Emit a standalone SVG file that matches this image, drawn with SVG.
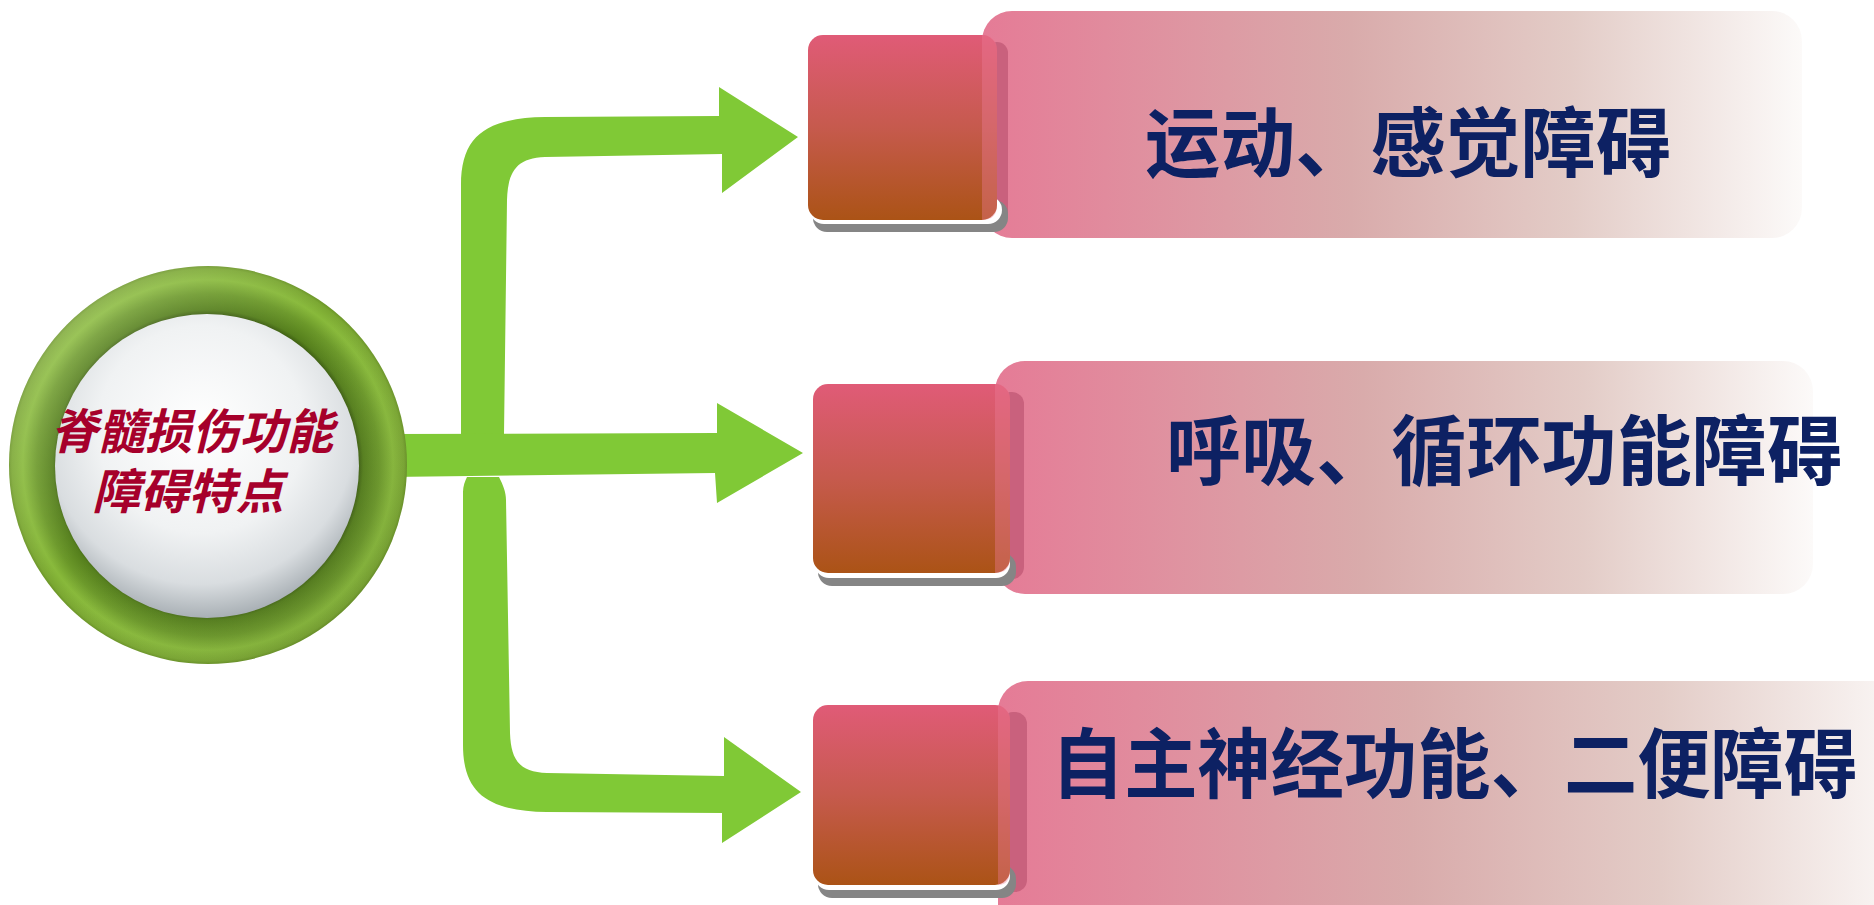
<svg xmlns="http://www.w3.org/2000/svg" width="1874" height="905" viewBox="0 0 1874 905">
<defs>
  <linearGradient id="banner" x1="0" y1="0" x2="1" y2="0">
    <stop offset="0" stop-color="#e57b96"/>
    <stop offset="0.45" stop-color="#d9abab"/>
    <stop offset="0.72" stop-color="#e3ccc7"/>
    <stop offset="1" stop-color="#fcfaf9"/>
  </linearGradient>
  <linearGradient id="sq" x1="0" y1="0" x2="0" y2="1">
    <stop offset="0" stop-color="#e05b77"/>
    <stop offset="0.5" stop-color="#c65a4d"/>
    <stop offset="1" stop-color="#ab5316"/>
  </linearGradient>
  <radialGradient id="ring" cx="0.5" cy="0.5" r="0.5">
    <stop offset="0.74" stop-color="#2f4a0c"/>
    <stop offset="0.78" stop-color="#557f1c"/>
    <stop offset="0.86" stop-color="#6b9829"/>
    <stop offset="0.93" stop-color="#88b93a"/>
    <stop offset="0.985" stop-color="#7aa731"/>
    <stop offset="1" stop-color="#6a9426"/>
  </radialGradient>
  <linearGradient id="ringHi" x1="0" y1="0" x2="1" y2="1">
    <stop offset="0" stop-color="#ffffff" stop-opacity="0.25"/>
    <stop offset="0.45" stop-color="#ffffff" stop-opacity="0"/>
    <stop offset="1" stop-color="#000000" stop-opacity="0.12"/>
  </linearGradient>
  <radialGradient id="sphere" cx="0.48" cy="0.38" r="0.62">
    <stop offset="0" stop-color="#ffffff"/>
    <stop offset="0.55" stop-color="#f0f2f3"/>
    <stop offset="0.82" stop-color="#d9dde0"/>
    <stop offset="1" stop-color="#a9b0b5"/>
  </radialGradient>
  <style>
    .arrow { fill: #80c936; }
    .band { fill: #c9617d; }
    .shadow { fill: #858585; }
    .strip { fill: #ffffff; }
    .gloss { fill: #ec7a96; opacity: 0.4; }
    .label { font-family: "Noto Sans CJK SC", "Noto Sans", sans-serif; font-weight: bold; font-size: 76px; fill: #0d2163; }
    .center { font-family: "Noto Sans CJK SC", "Noto Sans", sans-serif; font-weight: bold; font-style: italic; font-size: 48px; fill: #a6002b; text-anchor: middle; }
  </style>
</defs>

<g id="connectors">
  <path class="arrow" d="M461,434 L461,185 C461,135 487,118 545,117 L719,116 L719,87 L798,137 L722,193 L722,154 L545,157 C516,158 508,172 507,200 L504,434 Z"/>
  <path class="arrow" d="M390,434 L717,433 L717,403 L803,453 L717,503 L715,473 L390,477 Z"/>
  <path class="arrow" d="M467,477 L499,477 C503,485 506,492 506,500 L510,733 C511,762 521,772 547,773 L724,776 L724,737 L801,792 L722,843 L722,813 L547,812 C490,811 463,795 463,745 L463,492 C463,486 465,481 467,477 Z"/>
</g>

<g id="node-center">
  <circle cx="208" cy="465" r="199" fill="url(#ring)"/>
  <circle cx="208" cy="465" r="199" fill="url(#ringHi)"/>
  <circle cx="207" cy="466" r="152" fill="url(#sphere)"/>
  <text class="center"><tspan x="192" y="449" textLength="283" lengthAdjust="spacingAndGlyphs">脊髓损伤功能</tspan><tspan x="188" y="509" textLength="191" lengthAdjust="spacingAndGlyphs">障碍特点</tspan></text>
</g>

<g id="node-1">
  <rect x="982" y="11" width="820" height="227" rx="30" fill="url(#banner)"/>
  <rect class="band" x="985" y="42" width="23" height="183" rx="11"/>
  <rect class="shadow" x="813" y="200" width="195" height="32" rx="14"/>
  <rect class="strip" x="810" y="196" width="192" height="28" rx="14"/>
  <rect x="808" y="35" width="189" height="185" rx="15" fill="url(#sq)"/>
  <path class="gloss" d="M982,35 Q997,35 997,50 L997,205 Q997,220 982,220 Z"/>
  <text class="label" x="1145" y="171" textLength="526" lengthAdjust="spacingAndGlyphs">运动、感觉障碍</text>
</g>

<g id="node-2">
  <rect x="995" y="361" width="818" height="233" rx="30" fill="url(#banner)"/>
  <rect class="band" x="998" y="392" width="26" height="187" rx="12"/>
  <rect class="shadow" x="818" y="553" width="198" height="33" rx="14"/>
  <rect class="strip" x="815" y="549" width="195" height="29" rx="14"/>
  <rect x="813" y="384" width="197" height="189" rx="15" fill="url(#sq)"/>
  <path class="gloss" d="M995,384 Q1010,384 1010,399 L1010,558 Q1010,573 995,573 Z"/>
  <text class="label" x="1166" y="479" textLength="676" lengthAdjust="spacingAndGlyphs">呼吸、循环功能障碍</text>
</g>

<g id="node-3">
  <rect x="998" y="681" width="920" height="260" rx="30" fill="url(#banner)"/>
  <rect class="band" x="1001" y="712" width="26" height="180" rx="12"/>
  <rect class="shadow" x="818" y="865" width="198" height="33" rx="14"/>
  <rect class="strip" x="815" y="861" width="195" height="29" rx="14"/>
  <rect x="813" y="705" width="197" height="180" rx="15" fill="url(#sq)"/>
  <path class="gloss" d="M998,705 Q1010,705 1010,720 L1010,870 Q1010,885 998,885 Z"/>
  <text class="label" x="1051" y="792" textLength="806" lengthAdjust="spacingAndGlyphs">自主神经功能、二便障碍</text>
</g>
</svg>
